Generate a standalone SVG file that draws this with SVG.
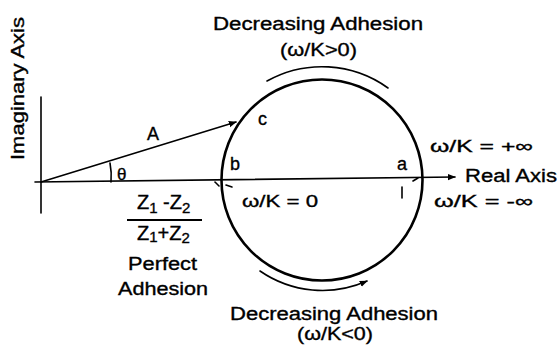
<svg xmlns="http://www.w3.org/2000/svg" width="559" height="345" viewBox="0 0 559 345">
<style>
text{font-family:"Liberation Sans",Arial,sans-serif;fill:#000;stroke:#000;stroke-width:0.35}
.t{font-size:18px}
.s{font-size:17px}
.f{font-size:20px}
.ln{fill:none;stroke:#000;stroke-width:1.6;stroke-linecap:round}
.th{fill:none;stroke:#000;stroke-width:2.6}
</style>
<defs>
<marker id="ah" viewBox="0 0 10 10" refX="9" refY="5" markerWidth="5" markerHeight="5" orient="auto">
<path d="M0,1 L10,5 L0,9 z" fill="#000"/>
</marker>
</defs>
<rect width="559" height="345" fill="#fff"/>
<g id="connectors">
<line class="ln" x1="41" y1="213" x2="41" y2="97" stroke-width="2"/>
<line class="ln" x1="35" y1="182" x2="455" y2="177" marker-end="url(#ah)" stroke-width="1.8"/>
<line class="ln" x1="41" y1="182" x2="236" y2="122" marker-end="url(#ah)" stroke-width="1.8"/>
<path class="ln" d="M110,163 A69,69 0 0 1 111,182" stroke-width="1.8"/>
<path class="ln" d="M267,81 A113,113 0 0 1 388,88"/>
<path class="ln" d="M260,271 A110,110 0 0 0 367,281" marker-end="url(#ah)"/>
<line class="ln" x1="215" y1="182" x2="219" y2="186" stroke-width="1.4"/>
<line class="ln" x1="226" y1="185" x2="232" y2="187" stroke-width="1.4"/>
<line class="ln" x1="402" y1="187" x2="402" y2="198" stroke-width="1.6"/>
<line class="ln" x1="413" y1="181" x2="418" y2="178" stroke-width="1.4"/>
</g>
<g id="circle">
<circle class="th" cx="322" cy="180" r="100.5"/>
</g>
<g id="labels">
<text class="t" transform="translate(24,160) rotate(-90)" textLength="143" lengthAdjust="spacingAndGlyphs">Imaginary Axis</text>
<text class="t" x="213" y="30" textLength="210" lengthAdjust="spacingAndGlyphs">Decreasing Adhesion</text>
<text class="t" x="280" y="56" textLength="77" lengthAdjust="spacingAndGlyphs">(ω/K&gt;0)</text>
<text class="t" x="147" y="140">A</text>
<text class="t" x="258" y="125">c</text>
<text class="t" x="230" y="170">b</text>
<text class="t" x="397" y="170">a</text>
<text class="s" x="117" y="180">θ</text>
<text class="s" x="430" y="152" textLength="103" lengthAdjust="spacingAndGlyphs">ω/K = +∞</text>
<text class="t" x="465" y="182" textLength="92" lengthAdjust="spacingAndGlyphs">Real Axis</text>
<text class="s" x="434" y="207" textLength="99" lengthAdjust="spacingAndGlyphs">ω/K = -∞</text>
<text class="s" x="242" y="207" textLength="76" lengthAdjust="spacingAndGlyphs">ω/K = 0</text>
<text class="f" x="137" y="209">Z<tspan font-size="15" dy="4">1</tspan><tspan dy="-4"> -Z</tspan><tspan font-size="15" dy="4">2</tspan></text>
<line x1="127" y1="220" x2="202" y2="220" stroke="#000" stroke-width="1.8"/>
<text class="f" x="137" y="240">Z<tspan font-size="15" dy="2">1</tspan><tspan dy="-2">+Z</tspan><tspan font-size="15" dy="3">2</tspan></text>
<text class="t" x="128" y="270" textLength="69" lengthAdjust="spacingAndGlyphs">Perfect</text>
<text class="t" x="118" y="295" textLength="90" lengthAdjust="spacingAndGlyphs">Adhesion</text>
<text class="t" x="230" y="320" textLength="208" lengthAdjust="spacingAndGlyphs">Decreasing Adhesion</text>
<text class="t" x="297" y="340" textLength="76" lengthAdjust="spacingAndGlyphs">(ω/K&lt;0)</text>
</g>
</svg>
